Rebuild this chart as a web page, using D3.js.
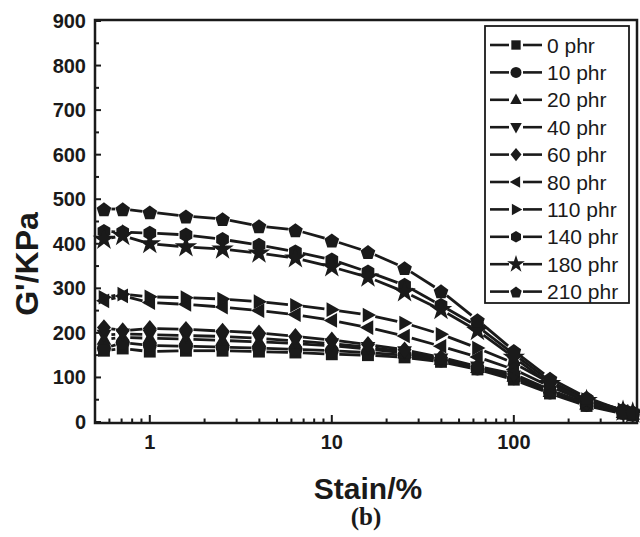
<!DOCTYPE html>
<html><head><meta charset="utf-8">
<script src="https://cdn.jsdelivr.net/npm/d3@7"></script>
<style>body{margin:0;background:#fff}svg{display:block}</style>
</head><body>
<script>
// ---- data ----
const strain = [0.56, 0.71, 1, 1.58, 2.51, 3.98, 6.31, 10, 15.8, 25.1, 39.8, 63.1, 100, 158, 251, 398, 450];
const seriesNames = ["0 phr","10 phr","20 phr","40 phr","60 phr","80 phr","110 phr","140 phr","180 phr","210 phr"];
const markers = ["square","circle","triup","tridown","diamond","trileft","triright","hexagon","star","pentagon"];
const s0   = [160, 165, 158, 160, 160, 158, 156, 152, 150, 145, 135, 118, 95, 64, 36, 19, 15];
const s10  = [165, 178, 172, 170, 168, 166, 163, 160, 156, 150, 138, 120, 98, 66, 38, 20, 16];
const s20  = [185, 190, 188, 186, 183, 180, 176, 171, 164, 155, 140, 122, 102, 68, 40, 21, 17];
const s40  = [195, 198, 196, 194, 192, 188, 182, 176, 168, 158, 142, 124, 104, 70, 40, 22, 18];
const s60  = [212, 205, 210, 208, 204, 200, 192, 184, 174, 162, 145, 125, 108, 72, 42, 22, 18];
const s80  = [272, 283, 268, 264, 258, 250, 241, 228, 212, 193, 170, 146, 118, 80, 45, 24, 20];
const s110 = [280, 287, 281, 279, 276, 270, 262, 252, 240, 222, 197, 166, 132, 88, 50, 27, 22];
const s140 = [428, 426, 424, 420, 410, 397, 382, 364, 337, 307, 262, 215, 152, 92, 50, 26, 21];
const s180 = [410, 418, 400, 393, 388, 379, 368, 348, 325, 292, 252, 205, 145, 86, 48, 24, 20];
const s210 = [478, 478, 471, 462, 456, 440, 431, 408, 382, 346, 294, 229, 160, 98, 55, 25, 22];
const seriesValues = [s0, s10, s20, s40, s60, s80, s110, s140, s180, s210];
const yTicks = [0,100,200,300,400,500,600,700,800,900];
const xTickLabels = [1, 10, 100];

// ---- layout ----
const W = 640, H = 537;
const svg = d3.select("body").append("svg").attr("width", W).attr("height", H);
const x = d3.scaleLog().domain([0.5, 475]).range([95, 637]);
const y = d3.scaleLinear().domain([0, 900]).range([422, 21]);

// marker shapes
function markerPath(type, s) {
  const r = s;
  switch (type) {
    case "square": { const a = r*0.85; return `M${-a},${-a}H${a}V${a}H${-a}Z`; }
    case "circle": return d3.symbol(d3.symbolCircle, Math.PI*r*r)();
    case "triup":  return `M0,${-r*1.15}L${r*1.05},${r*0.75}L${-r*1.05},${r*0.75}Z`;
    case "tridown":return `M0,${r*1.15}L${r*1.05},${-r*0.75}L${-r*1.05},${-r*0.75}Z`;
    case "trileft":return `M${-r*1.15},0L${r*0.75},${-r*1.05}L${r*0.75},${r*1.05}Z`;
    case "triright":return `M${r*1.15},0L${-r*0.75},${-r*1.05}L${-r*0.75},${r*1.05}Z`;
    case "diamond":return `M0,${-r*1.2}L${r*1.0},0L0,${r*1.2}L${-r*1.0},0Z`;
    case "hexagon":{ let p=[]; for(let i=0;i<6;i++){const a=Math.PI/3*i; p.push([r*1.05*Math.sin(a), -r*1.05*Math.cos(a)]);} return "M"+p.join("L")+"Z"; }
    case "pentagon":{ let p=[]; for(let i=0;i<5;i++){const a=2*Math.PI/5*i; p.push([r*1.1*Math.sin(a), -r*1.1*Math.cos(a)+1]);} return "M"+p.join("L")+"Z"; }
    case "star": return d3.symbol(d3.symbolStar, r*r*3.2)();
  }
}

const plot = svg.append("g");
const gap = 7.5;
seriesValues.forEach((vals, si) => {
  const pts = strain.map((s, i) => [x(s), y(vals[i])]);
  const g = plot.append("g");
  for (let i = 0; i < pts.length - 1; i++) {
    const [x1, y1] = pts[i], [x2, y2] = pts[i+1];
    const dx = x2 - x1, dy = y2 - y1, L = Math.hypot(dx, dy);
    if (L <= 2*gap) continue;
    const ux = dx/L, uy = dy/L;
    g.append("line").attr("x1", x1+ux*gap).attr("y1", y1+uy*gap)
      .attr("x2", x2-ux*gap).attr("y2", y2-uy*gap)
      .attr("stroke", "#1a1a1a").attr("stroke-width", 2.8);
  }
  g.selectAll("path.m").data(pts).enter().append("path").attr("class","m")
    .attr("transform", d => `translate(${d[0]},${d[1]})`)
    .attr("d", markerPath(markers[si], 7))
    .attr("fill", "#1a1a1a");
});

// frame
const fx0 = x.range()[0], fx1 = x.range()[1], fy0 = y(0)+1, fy1 = 20;
svg.append("rect").attr("x", fx0).attr("y", fy1).attr("width", fx1-fx0).attr("height", fy0-fy1)
  .attr("fill","none").attr("stroke","#1a1a1a").attr("stroke-width",2.5);

// y ticks (inward)
const yMinor = d3.range(50, 900, 100);
svg.append("g").selectAll("line").data(yTicks).enter().append("line")
  .attr("x1", fx0).attr("x2", fx0+6).attr("y1", d=>y(d)).attr("y2", d=>y(d))
  .attr("stroke","#1a1a1a").attr("stroke-width",2);
svg.append("g").selectAll("line").data(yMinor).enter().append("line")
  .attr("x1", fx0).attr("x2", fx0+4).attr("y1", d=>y(d)).attr("y2", d=>y(d))
  .attr("stroke","#1a1a1a").attr("stroke-width",2);
svg.append("g").selectAll("text").data(yTicks).enter().append("text")
  .attr("x", 86).attr("y", d=>y(d)+7).attr("text-anchor","end")
  .attr("font-family","Liberation Sans, Arial, sans-serif").attr("font-weight","bold")
  .attr("font-size",20).attr("fill","#1a1a1a").text(d=>d);

// x ticks (inward)
const xMinor = [0.6,0.7,0.8,0.9,2,3,4,5,6,7,8,9,20,30,40,50,60,70,80,90,200,300,400];
svg.append("g").selectAll("line").data(xTickLabels).enter().append("line")
  .attr("x1", d=>x(d)).attr("x2", d=>x(d)).attr("y1", fy0).attr("y2", fy0-8)
  .attr("stroke","#1a1a1a").attr("stroke-width",2);
svg.append("g").selectAll("line").data(xMinor).enter().append("line")
  .attr("x1", d=>x(d)).attr("x2", d=>x(d)).attr("y1", fy0).attr("y2", fy0-4.5)
  .attr("stroke","#1a1a1a").attr("stroke-width",2);
svg.append("g").selectAll("text").data(xTickLabels).enter().append("text")
  .attr("x", d=>x(d)).attr("y", 449).attr("text-anchor","middle")
  .attr("font-family","Liberation Sans, Arial, sans-serif").attr("font-weight","bold")
  .attr("font-size",20).attr("fill","#1a1a1a").text(d=>d);

// axis titles
svg.append("text").attr("transform","translate(38,264) rotate(-90)").attr("text-anchor","middle")
  .attr("font-family","Liberation Sans, Arial, sans-serif").attr("font-weight","bold")
  .attr("font-size",32).attr("fill","#1a1a1a").text("G'/KPa");
svg.append("text").attr("x", 368).attr("y", 499).attr("text-anchor","middle")
  .attr("font-family","Liberation Sans, Arial, sans-serif").attr("font-weight","bold")
  .attr("font-size",30).attr("fill","#1a1a1a").text("Stain/%");
svg.append("text").attr("x", 366).attr("y", 525).attr("text-anchor","middle")
  .attr("font-family","Liberation Serif, Times New Roman, serif").attr("font-weight","bold")
  .attr("font-size",25).attr("fill","#1a1a1a").text("(b)");

// legend
const lg = svg.append("g");
lg.append("rect").attr("x",485).attr("y",26).attr("width",144).attr("height",277)
  .attr("fill","#fff").attr("stroke","#1a1a1a").attr("stroke-width",1.8);
seriesNames.forEach((name, i) => {
  const cy = 45 + i*27.4;
  lg.append("line").attr("x1",490).attr("x2",509).attr("y1",cy).attr("y2",cy).attr("stroke","#1a1a1a").attr("stroke-width",2.6);
  lg.append("line").attr("x1",523).attr("x2",542).attr("y1",cy).attr("y2",cy).attr("stroke","#1a1a1a").attr("stroke-width",2.6);
  lg.append("path").attr("transform",`translate(516,${cy})`).attr("d", markerPath(markers[i], 5.5)).attr("fill","#1a1a1a");
  lg.append("text").attr("x",547).attr("y",cy+7.5)
    .attr("font-family","Liberation Sans, Arial, sans-serif").attr("font-size",21)
    .attr("fill","#1a1a1a").text(name);
});
</script>
</body></html>
